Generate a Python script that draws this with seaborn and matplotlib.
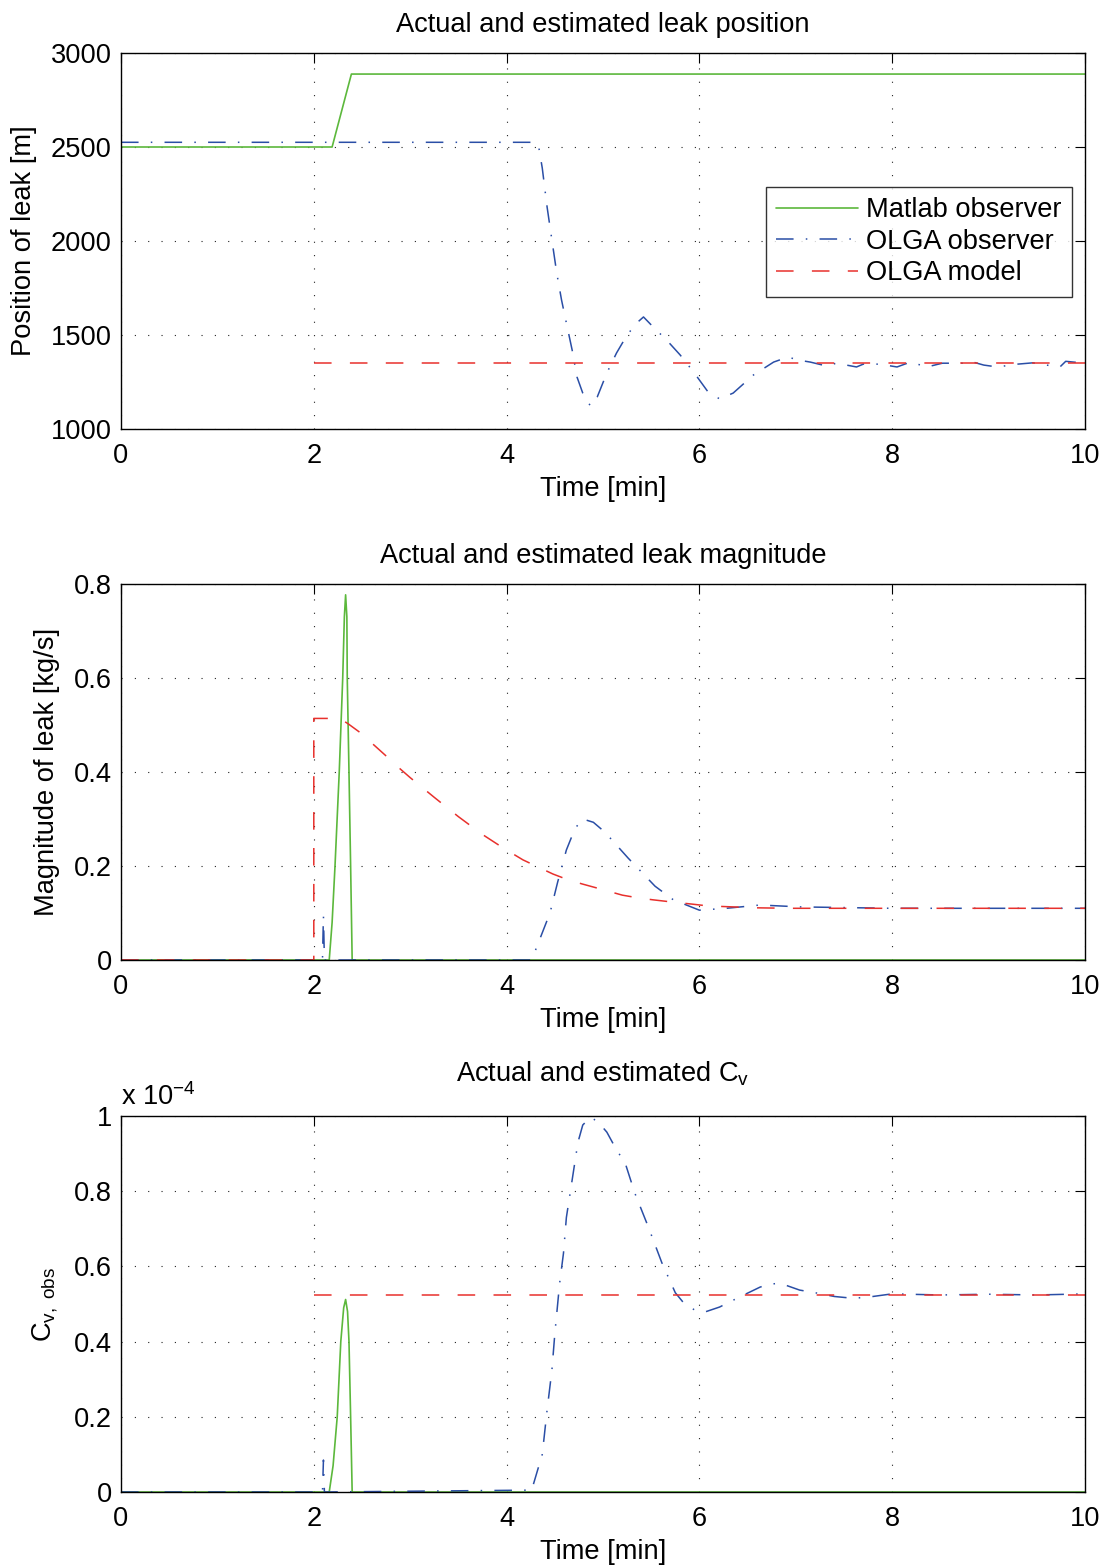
import numpy as np
import pandas as pd
import matplotlib
matplotlib.use("Agg")
import matplotlib.pyplot as plt
import seaborn as sns

# ---------------- data ----------------
# Panel 1: leak position [m]
green_pos_t = [0, 2.19, 2.39, 10]
green_pos = [2500, 2500, 2888, 2888]

blue_pos_t = [0, 4.28, 4.33, 4.37, 4.42, 4.47, 4.52, 4.57, 4.62, 4.68, 4.73, 4.79, 4.87,
              4.94, 5.04, 5.14, 5.25, 5.35, 5.42, 5.52, 5.66, 5.80, 5.94, 6.09, 6.21,
              6.35, 6.56, 6.77, 6.92, 7.02, 7.15, 7.32, 7.42, 7.63, 7.70, 7.87, 8.05,
              8.19, 8.36, 8.52, 8.73, 8.81, 8.95, 9.09, 9.30, 9.46, 9.60, 9.74, 9.80, 10]
blue_pos = [2525, 2525, 2510, 2388, 2181, 2005, 1830, 1686, 1564, 1420, 1277, 1191, 1122,
            1170, 1298, 1404, 1500, 1564, 1596, 1543, 1473, 1394, 1303, 1197, 1160,
            1191, 1287, 1356, 1383, 1367, 1356, 1335, 1350, 1330, 1345, 1345, 1330,
            1356, 1330, 1350, 1350, 1360, 1340, 1330, 1345, 1352, 1340, 1330, 1360, 1350]

red_pos_t = [2, 10]
red_pos = [1350, 1350]

# Panel 2: leak magnitude [kg/s]
green_mag_t = [0, 2.16, 2.19, 2.22, 2.264, 2.30, 2.317, 2.33, 2.343, 2.347, 2.365, 2.382, 2.398, 10]
green_mag = [0, 0, 0.08, 0.2, 0.4, 0.6, 0.73, 0.777, 0.73, 0.6, 0.4, 0.2, 0, 0]

blue_mag_t = [0, 2.09, 2.10, 2.11, 4.26, 4.45, 4.53, 4.62, 4.71, 4.79, 4.90, 5.02, 5.26,
              5.54, 5.73, 6.00, 6.28, 6.63, 7.04, 8.0, 10]
blue_mag = [0, 0, 0.095, 0, 0, 0.10, 0.166, 0.234, 0.28, 0.30, 0.293, 0.272, 0.217,
            0.157, 0.128, 0.106, 0.11, 0.117, 0.113, 0.11, 0.11]

red_mag_t = [0, 2.0, 2.0, 2.27, 2.36, 2.50, 2.61, 2.74, 2.86, 3.0, 3.25, 3.5, 3.75, 3.93,
             4.04, 4.17, 4.48, 4.62, 4.78, 4.94, 5.2, 5.37, 5.52, 5.69, 5.92, 6.09, 6.6,
             6.94, 10]
red_mag = [0, 0, 0.514, 0.514, 0.502, 0.481, 0.46, 0.436, 0.413, 0.388, 0.346, 0.305,
           0.267, 0.243, 0.229, 0.213, 0.183, 0.172, 0.162, 0.153, 0.138, 0.132, 0.128,
           0.124, 0.119, 0.115, 0.111, 0.11, 0.11]

# Panel 3: Cv (units of 1e-4)
green_cv_t = [0, 2.16, 2.20, 2.243, 2.28, 2.31, 2.33, 2.35, 2.365, 2.382, 2.398, 10]
green_cv = [0, 0, 0.07, 0.2, 0.4, 0.49, 0.512, 0.48, 0.4, 0.2, 0, 0]

blue_cv_t = [0, 2.09, 2.10, 2.11, 4.26, 4.37, 4.42, 4.47, 4.50, 4.55, 4.59, 4.62, 4.68,
             4.74, 4.79, 4.87, 4.95, 5.04, 5.14, 5.23, 5.33, 5.47, 5.61, 5.75, 5.83,
             5.95, 6.06, 6.21, 6.42, 6.63, 6.73, 6.84, 7.04, 7.2, 7.4, 7.6, 7.8, 8.0,
             8.5, 9.0, 9.5, 10]
blue_cv = [0, 0, 0.085, 0, 0.005, 0.10, 0.218, 0.324, 0.42, 0.555, 0.635, 0.73, 0.83,
           0.93, 0.976, 0.997, 0.984, 0.957, 0.91, 0.875, 0.795, 0.705, 0.61, 0.53, 0.505,
           0.484, 0.479, 0.492, 0.519, 0.545, 0.553, 0.555, 0.537, 0.53, 0.52, 0.515,
           0.52, 0.527, 0.524, 0.526, 0.524, 0.527]

red_cv_t = [2, 10]
red_cv = [0.525, 0.525]

titles = ["Actual and estimated leak position",
          "Actual and estimated leak magnitude",
          r"Actual and estimated C$_\mathregular{v}$"]
ylabels = ["Position of leak [m]", "Magnitude of leak [kg/s]",
           r"C$_\mathregular{v,\ obs}$"]
xlabel = "Time [min]"
legend_labels = ["Matlab observer", "OLGA observer", "OLGA model"]

# ---------------- style ----------------
sns.set_theme(style="white")
plt.rcParams["font.family"] = ["Liberation Sans", "DejaVu Sans"]
plt.rcParams["mathtext.fontset"] = "custom"
plt.rcParams["mathtext.rm"] = "Liberation Sans"
plt.rcParams["mathtext.it"] = "Liberation Sans:italic"
plt.rcParams["text.color"] = "black"
plt.rcParams["axes.labelcolor"] = "black"
plt.rcParams["axes.titlecolor"] = "black"
plt.rcParams["xtick.color"] = "black"
plt.rcParams["ytick.color"] = "black"
FS = 19.6

GREEN = "#5cb83c"
BLUE = "#2a4ea6"
RED = "#e8302c"
LS_RED = (0, (11.5, 12))
LS_BLUE = (0, (11.5, 8, 1, 8))

fig = plt.figure(figsize=(11.05, 15.67), dpi=100)
left = 121 / 1105
width = 964 / 1105
height = 376 / 1567
bottoms = [1 - 429 / 1567, 1 - 960 / 1567, 1 - 1492 / 1567]
axes = [fig.add_axes([left, b, width, height]) for b in bottoms]

series = [
    [(green_pos_t, green_pos), (blue_pos_t, blue_pos), (red_pos_t, red_pos)],
    [(green_mag_t, green_mag), (blue_mag_t, blue_mag), (red_mag_t, red_mag)],
    [(green_cv_t, green_cv), (blue_cv_t, blue_cv), (red_cv_t, red_cv)],
]
ylims = [(1000, 3000), (0, 0.8), (0, 1.0)]
yticks = [[1000, 1500, 2000, 2500, 3000], [0, 0.2, 0.4, 0.6, 0.8], [0, 0.2, 0.4, 0.6, 0.8, 1.0]]
yticklabels = [["1000", "1500", "2000", "2500", "3000"],
               ["0", "0.2", "0.4", "0.6", "0.8"],
               ["0", "0.2", "0.4", "0.6", "0.8", "1"]]
ylabel_x = [-0.087, -0.063, -0.063]
title_pad = [15, 15, 25]

styles = [dict(color=GREEN, linestyle="-", lw=1.2),
          dict(color=BLUE, linestyle=LS_BLUE, lw=1.1),
          dict(color=RED, linestyle=LS_RED, lw=1.1)]

for i, ax in enumerate(axes):
    for (tt, vv), st, lab in zip(series[i], styles, legend_labels):
        df = pd.DataFrame({"t": tt, "v": vv})
        sns.lineplot(data=df, x="t", y="v", ax=ax, estimator=None, sort=False,
                     legend=False, label=lab, **st)
    ax.set_xlim(0, 10)
    ax.set_ylim(*ylims[i])
    ax.set_xticks([0, 2, 4, 6, 8, 10])
    ax.set_xticklabels(["0", "2", "4", "6", "8", "10"])
    ax.set_yticks(yticks[i])
    ax.set_yticklabels(yticklabels[i])
    ax.grid(True, color="#222222", linestyle=(0, (1, 11)), lw=0.8)
    ax.tick_params(direction="in", length=7, width=0.8, top=True, right=True,
                   labelsize=FS, colors="black")
    ax.tick_params(axis="x", pad=10)
    ax.tick_params(axis="y", pad=6.5)
    for sp in ax.spines.values():
        sp.set_color("black")
        sp.set_linewidth(1.0)
    ax.set_title(titles[i], fontsize=FS, pad=title_pad[i], color="black")
    ax.set_xlabel(xlabel, fontsize=FS, color="black")
    ax.set_ylabel(ylabels[i], fontsize=FS, color="black")
    ax.yaxis.set_label_coords(ylabel_x[i], 0.5)
    ax.xaxis.set_label_coords(0.5, -0.125)
    if ax.get_legend() is not None:
        ax.get_legend().remove()

axes[2].text(0.0, 1.03, r"x 10$^{\mathregular{-4}}$", transform=axes[2].transAxes,
             fontsize=FS, ha="left", va="baseline", color="black")

leg = axes[0].legend(loc="upper right", bbox_to_anchor=(0.9865, 0.6436), fontsize=FS,
                     frameon=True, fancybox=False, handlelength=3.0, handletextpad=0.3,
                     borderpad=0.38, labelspacing=0.2, borderaxespad=0.0)
leg.get_frame().set_edgecolor("black")
leg.get_frame().set_linewidth(1.0)
for t in leg.get_texts():
    t.set_color("black")

fig.savefig("out.png", dpi=100)
